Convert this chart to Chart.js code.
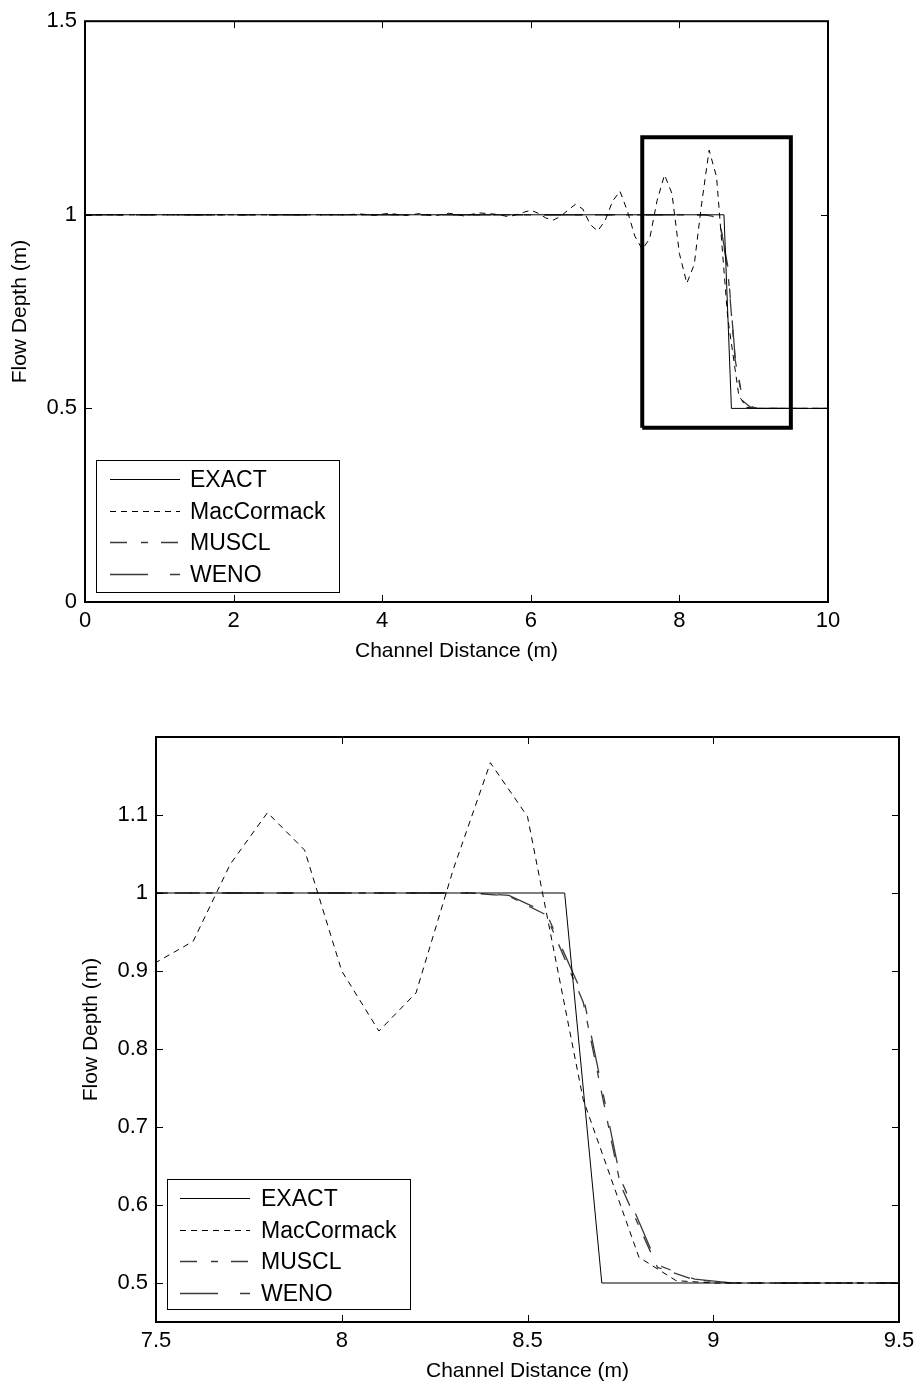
<!DOCTYPE html>
<html>
<head>
<meta charset="utf-8">
<title>Flow depth</title>
<script src="https://cdn.jsdelivr.net/npm/chart.js@4"></script>
<style>
  html, body { margin: 0; padding: 0; background: #fff; }
  #wrap { position: relative; width: 921px; height: 1387px; }
  canvas { position: absolute; left: 0; }
  #topChart { top: 0; }
  #zoomChart { top: 693px; }
</style>
</head>
<body>
<div id="wrap">
  <canvas id="topChart" width="921" height="693"></canvas>
  <canvas id="zoomChart" width="921" height="694"></canvas>
</div>
<script>
const FONT = "'Liberation Sans', Arial, sans-serif";

// EXACT solution
const exactX = [0, 8.6, 8.7, 10];
const exactY = [1, 1, 0.5, 0.5];

// MacCormack
const macX = [0, 3.5, 3.7, 3.9, 4.1, 4.3, 4.5, 4.7, 4.9, 5.1, 5.3, 5.5, 5.6, 5.7, 5.8, 5.9,
  6.0, 6.1, 6.2, 6.3, 6.4, 6.5, 6.6, 6.7, 6.8, 6.9, 7.0, 7.1, 7.2, 7.3, 7.4, 7.5, 7.6, 7.7,
  7.8, 7.9, 8.0, 8.1, 8.2, 8.3, 8.4, 8.5, 8.65, 8.8, 8.9, 9.0, 10];
const macY = [1, 1, 1.002, 0.999, 1.004, 0.998, 1.003, 0.997, 1.004, 0.997, 1.005, 1.002, 0.999, 0.995, 1.0, 1.006,
  1.012, 1.004, 0.992, 0.986, 0.996, 1.012, 1.027, 1.015, 0.975, 0.958, 0.985, 1.035, 1.061, 1.01, 0.945, 0.911, 0.938, 1.037,
  1.103, 1.055, 0.9, 0.823, 0.872, 1.03, 1.167, 1.098, 0.735, 0.533, 0.503, 0.5, 0.5];

// MUSCL and WENO
const musclX = [0, 8.35, 8.45, 8.55, 8.65, 8.75, 8.85, 8.95, 9.05, 10];
const musclY = [1, 1, 0.996, 0.972, 0.86, 0.626, 0.52, 0.504, 0.5, 0.5];
const wenoX = [0, 8.35, 8.45, 8.55, 8.65, 8.75, 8.85, 8.95, 9.05, 10];
const wenoY = [1, 1, 0.997, 0.975, 0.868, 0.634, 0.523, 0.505, 0.5, 0.5];

// zoom window marked on the full plot
const boxX = [7.5, 7.5, 9.5, 9.5, 7.5];
const boxY = [0.45, 1.2, 1.2, 0.45, 0.45];

const topXTicks = [0, 2, 4, 6, 8, 10];
const topYTicks = [0, 0.5, 1, 1.5];
const zoomXTicks = [7.5, 8, 8.5, 9, 9.5];
const zoomYTicks = [0.5, 0.6, 0.7, 0.8, 0.9, 1, 1.1];

function pts(xs, ys) {
  return xs.map((x, i) => ({ x: x, y: ys[i] }));
}

function seriesList(withBox) {
  const list = [
    { label: 'EXACT', data: pts(exactX, exactY), borderColor: '#000', borderWidth: 1, borderDash: [] },
    { label: 'MacCormack', data: pts(macX, macY), borderColor: '#000', borderWidth: 1, borderDash: [6, 5] },
    { label: 'MUSCL', data: pts(musclX, musclY), borderColor: '#3a3a3a', borderWidth: 1.3, borderDash: [17, 14, 7, 13] },
    { label: 'WENO', data: pts(wenoX, wenoY), borderColor: '#3a3a3a', borderWidth: 1.3, borderDash: [38, 22, 10, 22] }
  ];
  if (withBox) {
    list.push({ data: pts(boxX, boxY), borderColor: '#000', borderWidth: 4, borderDash: [], order: -1 });
  }
  return list.map(d => Object.assign({ showLine: true, pointRadius: 0, fill: false, tension: 0 }, d));
}

// box frame and inward ticks on all four sides
const matlabBox = {
  id: 'matlabBox',
  afterDatasetsDraw(chart) {
    const { ctx, chartArea: a, scales } = chart;
    const x = scales.x, y = scales.y;
    ctx.save();
    ctx.strokeStyle = '#000';
    ctx.lineWidth = 1;
    ctx.setLineDash([]);
    ctx.beginPath();
    x.ticks.forEach(t => {
      const px = Math.round(x.getPixelForValue(t.value)) + 0.5;
      ctx.moveTo(px, a.bottom); ctx.lineTo(px, a.bottom - 7);
      ctx.moveTo(px, a.top); ctx.lineTo(px, a.top + 7);
    });
    y.ticks.forEach(t => {
      const py = Math.round(y.getPixelForValue(t.value)) + 0.5;
      ctx.moveTo(a.left, py); ctx.lineTo(a.left + 7, py);
      ctx.moveTo(a.right, py); ctx.lineTo(a.right - 7, py);
    });
    ctx.stroke();
    ctx.lineWidth = 2;
    ctx.strokeRect(a.left, a.top, a.right - a.left, a.bottom - a.top);
    ctx.restore();
  }
};

// legend box in the lower left corner of the plot
const boxLegend = {
  id: 'boxLegend',
  afterDraw(chart, args, opts) {
    const { ctx, chartArea: a } = chart;
    const left = Math.round(a.left + opts.dx);
    const top = Math.round(a.bottom - opts.dy - opts.h);
    ctx.save();
    ctx.fillStyle = '#fff';
    ctx.fillRect(left, top, opts.w, opts.h);
    ctx.strokeStyle = '#000';
    ctx.lineWidth = 1;
    ctx.setLineDash([]);
    ctx.strokeRect(left + 0.5, top + 0.5, opts.w, opts.h);
    chart.data.datasets.filter(d => d.label).forEach((d, i) => {
      const yy = Math.round(top + opts.first + i * opts.step) + 0.5;
      ctx.strokeStyle = d.borderColor;
      ctx.lineWidth = d.borderWidth;
      ctx.setLineDash(d.borderDash);
      ctx.beginPath();
      ctx.moveTo(left + opts.l0, yy);
      ctx.lineTo(left + opts.l1, yy);
      ctx.stroke();
      ctx.setLineDash([]);
      ctx.fillStyle = '#000';
      ctx.font = '23px ' + FONT;
      ctx.textAlign = 'left';
      ctx.textBaseline = 'middle';
      ctx.fillText(d.label, left + opts.tx, yy + 1);
    });
    ctx.restore();
  }
};

function makeChart(id, c) {
  return new Chart(document.getElementById(id), {
    type: 'scatter',
    data: { datasets: seriesList(c.withBox) },
    plugins: [matlabBox, boxLegend],
    options: {
      responsive: false,
      animation: false,
      layout: { padding: c.pad },
      plugins: {
        legend: { display: false },
        tooltip: { enabled: false },
        boxLegend: c.legend
      },
      scales: {
        x: {
          type: 'linear', min: c.xMin, max: c.xMax,
          grid: { display: false, drawTicks: false },
          border: { display: false },
          afterBuildTicks: s => { s.ticks = c.xTicks.map(v => ({ value: v })); },
          afterFit: s => { s.height = c.xAxisH; },
          ticks: { color: '#000', padding: 6, maxRotation: 0, font: { family: FONT, size: 22 }, callback: v => String(v) },
          title: { display: true, text: 'Channel Distance (m)', color: '#000',
                   font: { family: FONT, size: 21 }, padding: { top: 0, bottom: c.xTitlePad } }
        },
        y: {
          type: 'linear', min: c.yMin, max: c.yMax,
          grid: { display: false, drawTicks: false },
          border: { display: false },
          afterBuildTicks: s => { s.ticks = c.yTicks.map(v => ({ value: v })); },
          afterFit: s => { s.width = c.yAxisW; },
          ticks: { color: '#000', padding: 8, font: { family: FONT, size: 22 }, callback: v => String(v) },
          title: { display: true, text: 'Flow Depth (m)', color: '#000',
                   font: { family: FONT, size: 21 }, padding: { top: c.yTitlePad, bottom: 0 } }
        }
      }
    }
  });
}

makeChart('topChart', {
  withBox: true,
  xMin: 0, xMax: 10, yMin: 0, yMax: 1.5,
  xTicks: topXTicks, yTicks: topYTicks,
  pad: { left: 0, top: 17, right: 93, bottom: 0 },
  yAxisW: 85, xAxisH: 91, yTitlePad: 8, xTitlePad: 29,
  legend: { dx: 11, dy: 10, w: 243, h: 132, first: 19, step: 31.7, l0: 14, l1: 84, tx: 94 }
});

makeChart('zoomChart', {
  withBox: false,
  xMin: 7.5, xMax: 9.5, yMin: 0.45, yMax: 1.2,
  xTicks: zoomXTicks, yTicks: zoomYTicks,
  pad: { left: 0, top: 44, right: 22, bottom: 0 },
  yAxisW: 156, xAxisH: 65, yTitlePad: 79, xTitlePad: 3,
  legend: { dx: 11, dy: 13, w: 243, h: 130, first: 19, step: 31.5, l0: 13, l1: 83, tx: 94 }
});
</script>
</body>
</html>
